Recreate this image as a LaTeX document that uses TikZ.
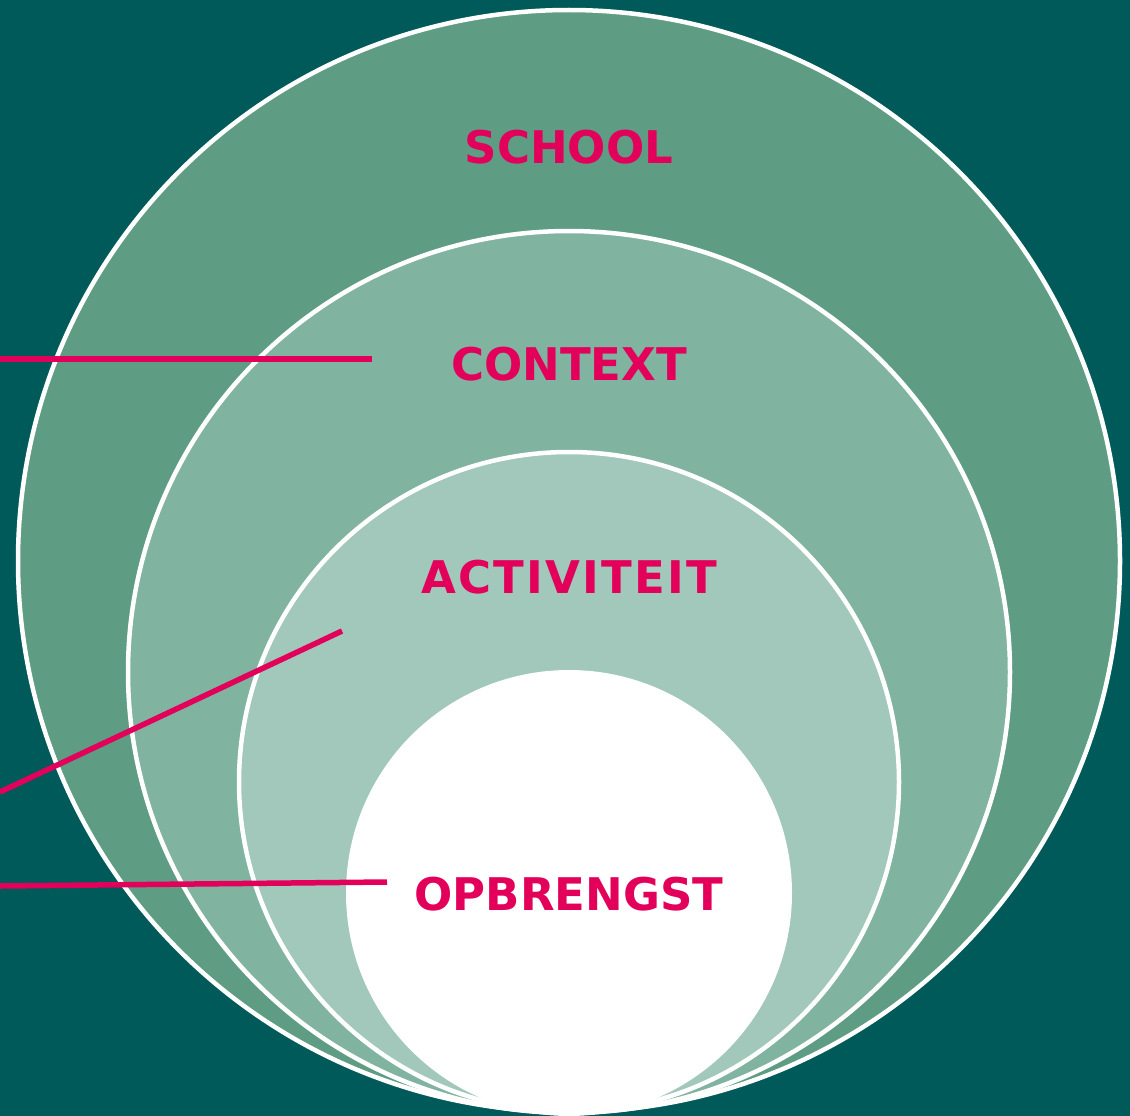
\documentclass[tikz,border=0pt]{standalone}
\usepackage{fontspec}
\setmainfont{DejaVu Sans}
\definecolor{bgteal}{HTML}{005A5A}
\definecolor{ringone}{HTML}{5E9C84}
\definecolor{ringtwo}{HTML}{80B3A0}
\definecolor{ringthree}{HTML}{A1C8BA}
\definecolor{pinkred}{HTML}{E3005B}
\tikzstyle{ring} = [draw=white, line width=4.5pt]
\tikzstyle{ringlabel} = [anchor=base, text=pinkred, font=\fontsize{45}{54}\selectfont\bfseries, inner sep=0pt]
\tikzstyle{pointer} = [draw=pinkred, line width=5.5pt]

\begin{document}
\begin{tikzpicture}[x=1pt, y=-1pt]
      \fill [bgteal] (0,0) rectangle (1130,1116);
      \useasboundingbox (0,0) rectangle (1130,1116);
      % nested circles, all touching at the bottom
      \filldraw [ring, fill=ringone] (569,561) circle (551);
      \filldraw [ring, fill=ringtwo] (569,672) circle (441);
      \filldraw [ring, fill=ringthree] (569,782) circle (330);
      \fill [white] (569,893) circle (223);
      \node (school) [ringlabel] at (569,163) {SCHOOL};
      \node (context) [ringlabel] at (569,380) {CONTEXT};
      \node (activiteit) [ringlabel] at (569,593) {\addfontfeature{LetterSpace=5}ACTIVITEIT};
      \node (opbrengst) [ringlabel] at (569,910) {OPBRENGST};
      \coordinate (a0) at (0,359);
      \coordinate (a1) at (372,359);
      \coordinate (b0) at (0,792);
      \coordinate (b1) at (342,631);
      \coordinate (c0) at (0,886);
      \coordinate (c1) at (387,882);
      \draw [pointer] (a0) -- (a1);
      \draw [pointer] (b0) -- (b1);
      \draw [pointer] (c0) -- (c1);
    \end{tikzpicture}
\end{document}
